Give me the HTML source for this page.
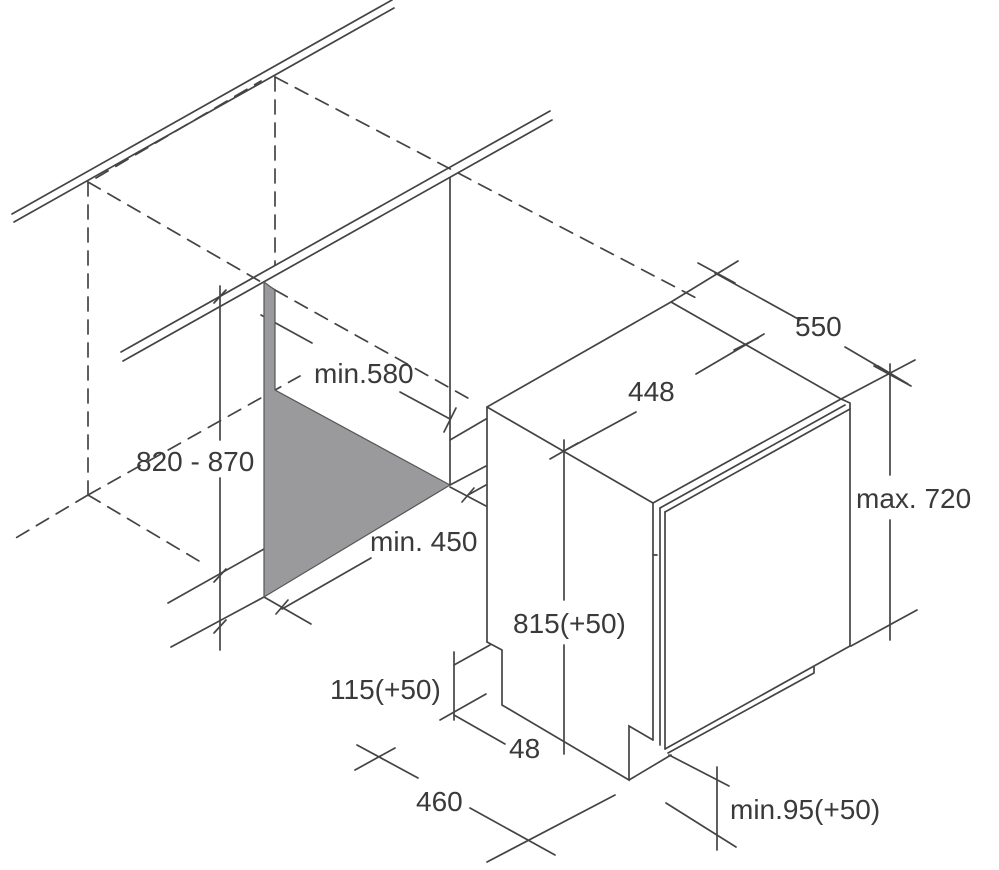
<!DOCTYPE html>
<html><head><meta charset="utf-8"><style>
html,body{margin:0;padding:0;background:#fff;width:999px;height:870px;overflow:hidden}
svg{display:block}
text{font-family:"Liberation Sans",sans-serif;font-size:28px;fill:#3a3a3a}
</style></head><body>
<svg width="999" height="870" viewBox="0 0 999 870" xmlns="http://www.w3.org/2000/svg">
<g stroke="#444" stroke-width="1.7" fill="none" stroke-linecap="round">
<line x1="12" y1="214" x2="392" y2="0"/>
<line x1="14" y1="222" x2="394" y2="8"/>
<line x1="121" y1="352" x2="550" y2="111"/>
<line x1="123" y1="361" x2="552" y2="120"/>
<g stroke-dasharray="14 9">
<line x1="96" y1="178" x2="261" y2="81"/>
<line x1="88" y1="182" x2="88" y2="495"/>
<line x1="275" y1="77" x2="275" y2="265"/>
<line x1="275" y1="77" x2="700" y2="300"/>
<line x1="88" y1="182" x2="275" y2="290"/>
<line x1="275" y1="290" x2="475" y2="402"/>
<line x1="88" y1="495" x2="14" y2="539"/>
<line x1="88" y1="495" x2="300" y2="376"/>
<line x1="88" y1="495" x2="204" y2="564"/>
</g>
<line x1="450" y1="178" x2="450" y2="485"/>
<line x1="220" y1="286" x2="220" y2="440"/>
<line x1="220" y1="478" x2="220" y2="650"/>
<line x1="214" y1="303" x2="226" y2="290"/>
<line x1="214" y1="582" x2="226" y2="569"/>
<line x1="214" y1="633" x2="226" y2="620"/>
<line x1="168" y1="603" x2="264" y2="549"/>
<line x1="171" y1="647" x2="264" y2="597"/>
<line x1="264" y1="597" x2="311" y2="624"/>
<line x1="261" y1="315" x2="312" y2="343"/>
<line x1="400" y1="392" x2="450" y2="419"/>
<line x1="444" y1="432" x2="456" y2="408"/>
<line x1="450" y1="440" x2="486" y2="419"/>
<line x1="450" y1="485" x2="486" y2="466"/>
<line x1="450" y1="487" x2="486" y2="506"/>
<line x1="282" y1="609" x2="371" y2="558"/>
<line x1="468" y1="495" x2="486" y2="485"/>
<line x1="276" y1="614" x2="288" y2="600"/>
<line x1="462" y1="502" x2="474" y2="488"/>
<polyline points="487,642 487,407 671,302 841,399"/>
<line x1="487" y1="407" x2="653" y2="503"/>
<polyline points="653,503 841,399 850,403 850,646"/>
<line x1="660" y1="508" x2="845" y2="405"/>
<line x1="665" y1="512" x2="850" y2="409"/>
<line x1="653" y1="503" x2="653" y2="740"/>
<line x1="660" y1="508" x2="660" y2="745"/>
<line x1="665" y1="512" x2="665" y2="749"/>
<line x1="665" y1="749" x2="850" y2="646"/>
<line x1="653" y1="555" x2="657" y2="555"/>
<polyline points="487,642 502,650 502,705 629,780 629,726 653,740"/>
<line x1="629" y1="780" x2="671" y2="755"/>
<polyline points="814,667 814,673 668,753"/>
<line x1="671" y1="302" x2="738" y2="261"/>
<line x1="715" y1="273" x2="800" y2="320"/>
<line x1="845" y1="347" x2="891" y2="374"/>
<line x1="841" y1="399" x2="915" y2="360"/>
<line x1="698" y1="263" x2="735" y2="283"/>
<line x1="874" y1="366" x2="911" y2="386"/>
<line x1="564" y1="451" x2="636" y2="412"/>
<line x1="696" y1="374" x2="764" y2="334"/>
<line x1="550" y1="459" x2="578" y2="443"/>
<line x1="734" y1="350" x2="758" y2="338"/>
<line x1="564" y1="440" x2="564" y2="600"/>
<line x1="564" y1="645" x2="564" y2="754"/>
<line x1="890" y1="364" x2="890" y2="475"/>
<line x1="890" y1="520" x2="890" y2="640"/>
<line x1="851" y1="646" x2="917" y2="610"/>
<line x1="878" y1="366" x2="908" y2="384"/>
<line x1="717" y1="767" x2="717" y2="850"/>
<line x1="669" y1="755" x2="729" y2="786"/>
<line x1="666" y1="803" x2="736" y2="847"/>
<line x1="454" y1="652" x2="454" y2="720"/>
<line x1="454" y1="665" x2="490" y2="645"/>
<line x1="440" y1="720" x2="486" y2="694"/>
<line x1="454" y1="715" x2="505" y2="744"/>
<line x1="357" y1="745" x2="418" y2="778"/>
<line x1="470" y1="808" x2="555" y2="855"/>
<line x1="355" y1="770" x2="395" y2="748"/>
<line x1="487" y1="862" x2="615" y2="795"/>
</g>
<polygon points="264,282 275,290 275,390 450,485 264,597" fill="#9a9a9c" stroke="#555" stroke-width="1.2"/>
<text x="136" y="471">820 - 870</text>
<text x="314" y="383">min.580</text>
<text x="370" y="551">min. 450</text>
<text x="795" y="336">550</text>
<text x="628" y="401">448</text>
<text x="513" y="633">815(+50)</text>
<text x="856" y="508">max. 720</text>
<text x="330" y="699">115(+50)</text>
<text x="509" y="758">48</text>
<text x="416" y="811">460</text>
<text x="730" y="819">min.95(+50)</text>
</svg>
</body></html>
